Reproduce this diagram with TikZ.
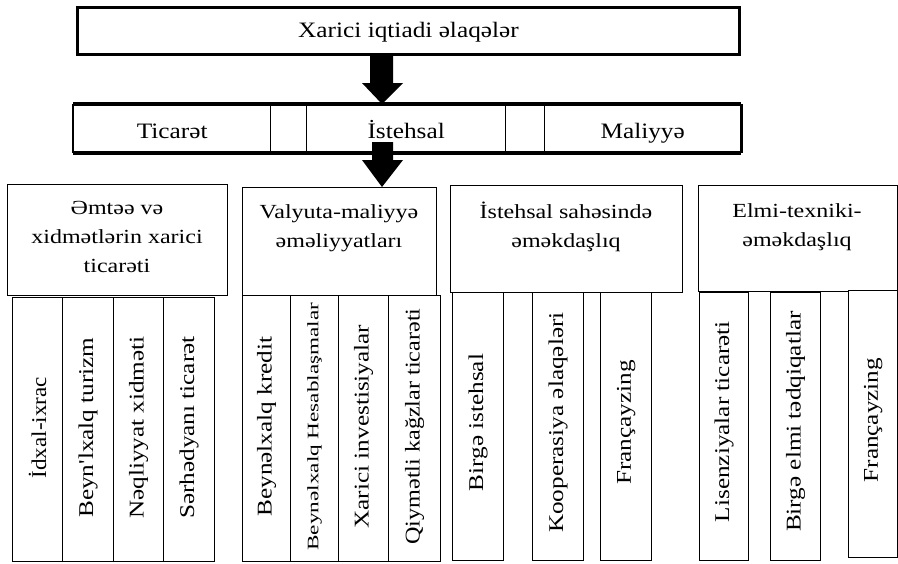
\documentclass[tikz,border=0pt]{standalone}
\usepackage{fontspec}
\setmainfont{Liberation Serif}
\usetikzlibrary{calc}
\newcommand\sx[2][1.2]{\scalebox{#1}[1]{#2}}
\newcommand\rect[6]{%
  \pgfmathsetmacro\myrw{#5-#3}\pgfmathsetmacro\myrh{#6-#4}%
  \node[#1, anchor=north west, inner sep=0pt, minimum width=\myrw pt, minimum height=\myrh pt] (#2) at (#3,#4) {};}
\begin{document}
\begin{tikzpicture}[x=1pt,y=-1pt,
  topbox/.style={draw, line width=3pt, fill=white},
  cellbox/.style={draw, line width=1.4pt, fill=white},
  hdrbox/.style={draw, line width=1.4pt, fill=white},
  colbox/.style={draw, line width=1.2pt, fill=white},
  vlab/.style={rotate=90, font=\fontsize{21}{21}\selectfont, inner sep=0pt},
  slab/.style={rotate=90, font=\fontsize{16}{16}\selectfont, inner sep=0pt},
  hlab/.style={font=\fontsize{20}{29}\selectfont, align=center, inner sep=0pt},
  tlab/.style={font=\fontsize{22}{22}\selectfont, inner sep=0pt, anchor=base},
  blockarrow/.style={fill=black}
]
\useasboundingbox (0,0) rectangle (898,563);
\fill[white] (0,0) rectangle (898,563);

% top box
\rect{topbox}{top}{76}{6}{738}{53}
\node[tlab] (toptxt) at (top.center |- 0,37) {\sx[1.15]{Xarici iqtiadi əlaqələr}};

% second row
\rect{cellbox}{rT}{73}{104}{270}{152}
\rect{cellbox}{rg1}{270}{104}{306}{152}
\rect{cellbox}{rI}{306}{104}{505}{152}
\rect{cellbox}{rg2}{505}{104}{544}{152}
\rect{cellbox}{rM}{544}{104}{740}{152}
\draw[line width=4pt] (rT.north west) -- (rM.north east);
\draw[line width=4pt] (rT.south west) -- (rM.south east);
\draw[line width=2pt] (rT.north west) -- (rT.south west);
\draw[line width=2.4pt] (rM.north east) -- (rM.south east);
\node[tlab] (tT) at (rT.center |- 0,138) {\sx[1.15]{Ticarət}};
\node[tlab] (tI) at (rI.center |- 0,138) {\sx[1.15]{İstehsal}};
\node[tlab] (tM) at (rM.center |- 0,138) {\sx[1.15]{Maliyyə}};

% group headers
\rect{hdrbox}{h1}{7}{184}{227}{295}
\rect{hdrbox}{h2}{242}{187}{436}{295}
\rect{hdrbox}{h3}{450}{185}{682}{292}
\rect{hdrbox}{h4}{698}{185}{897}{291}
\node[hlab] (h1t) at (117,237) {\sx{Əmtəə və}\\\sx{xidmətlərin xarici}\\\sx{ticarəti}};
\node[hlab] (h2t) at (339,228) {\sx{Valyuta-maliyyə}\\\sx{əməliyyatları}};
\node[hlab] (h3t) at (566,227) {\sx{İstehsal sahəsində}\\\sx{əməkdaşlıq}};
\node[hlab] (h4t) at (797,227) {\sx{Elmi-texniki-}\\\sx{əməkdaşlıq}};

% arrows
\coordinate (a1s) at (382,0 |- top.south);
\coordinate (a1e) at (382,0 |- rT.north);
\fill[blockarrow] ($(a1s)+(-12,0)$) -- ($(a1s)+(11,0)$) -- ($(a1e)+(11,-21)$) -- ($(a1e)+(21,-21)$) -- (a1e) -- ($(a1e)+(-20,-21)$) -- ($(a1e)+(-12,-21)$) -- cycle;
\coordinate (a2s) at (382,142);
\coordinate (a2e) at (382,0 |- h2.north);
\fill[blockarrow] ($(a2s)+(-10,0)$) -- ($(a2s)+(11,0)$) -- ($(a2e)+(11,-27)$) -- ($(a2e)+(21,-27)$) -- (a2e) -- ($(a2e)+(-20,-27)$) -- ($(a2e)+(-10,-27)$) -- cycle;

% group 1 columns
\rect{colbox}{c11}{12}{297}{62}{561}
\rect{colbox}{c12}{62}{297}{113}{561}
\rect{colbox}{c13}{113}{297}{163}{561}
\rect{colbox}{c14}{163}{297}{214}{561}
\node[vlab] (t11) at ([yshift=2pt]c11.center) {\sx[1.1]{İdxal-ixrac}};
\node[vlab] (t12) at ([yshift=2pt]c12.center) {\sx{Beyn\textquotesingle lxalq turizm}};
\node[vlab] (t13) at ([yshift=2pt]c13.center) {\sx{Nəqliyyat xidməti}};
\node[vlab] (t14) at ([yshift=2pt]c14.center) {\sx{Sərhədyanı ticarət}};

% group 2 columns
\rect{colbox}{c21}{242}{295}{290}{561}
\rect{colbox}{c22}{290}{295}{338}{561}
\rect{colbox}{c23}{338}{295}{388}{561}
\rect{colbox}{c24}{388}{295}{440}{561}
\node[vlab] (t21) at ([yshift=2pt]c21.center) {\sx{Beynəlxalq kredit}};
\node[slab] (t22) at ([yshift=2pt]c22.center) {\sx[1.45]{Beynəlxalq Hesablaşmalar}};
\node[vlab] (t23) at ([yshift=2pt]c23.center) {\sx{Xarici investisiyalar}};
\node[vlab] (t24) at ([yshift=2pt]c24.center) {\sx[1.15]{Qiymətli kağzlar ticarəti}};

% group 3 columns
\rect{colbox}{c31}{452}{292}{503}{560}
\rect{colbox}{c32}{532}{292}{583}{560}
\rect{colbox}{c33}{600}{292}{651}{560}
\node[vlab] (t31) at ([yshift=4pt]c31.center) {\sx{Birgə istehsal}};
\node[vlab] (t32) at ([yshift=4pt]c32.center) {\sx{Kooperasiya əlaqələri}};
\node[vlab] (t33) at ([yshift=4pt]c33.center) {\sx{Françayzing}};

% group 4 columns
\rect{colbox}{c41}{699}{292}{748}{560}
\rect{colbox}{c42}{770}{292}{820}{560}
\rect{colbox}{c43}{848}{290}{897}{557}
\node[vlab] (t41) at ([yshift=5pt]c41.center) {\sx{Lisenziyalar ticarəti}};
\node[vlab] (t42) at ([yshift=5pt]c42.center) {\sx{Birgə elmi tədqiqatlar}};
\node[vlab] (t43) at ([yshift=4pt]c43.center) {\sx{Françayzing}};
\end{tikzpicture}
\end{document}
